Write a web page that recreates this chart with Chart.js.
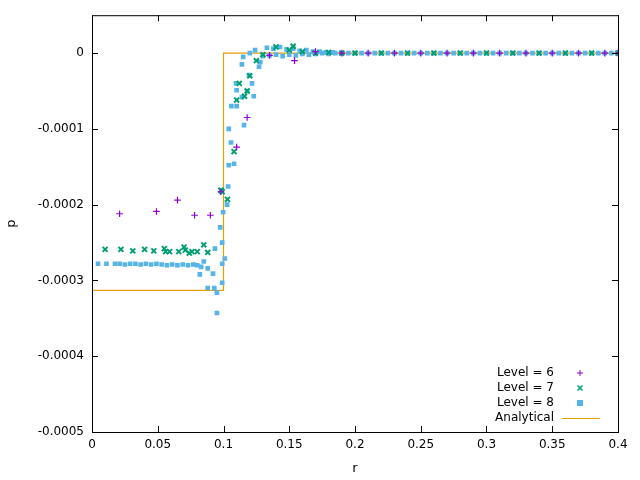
<!DOCTYPE html>
<html><head><meta charset="utf-8">
<script src="https://cdn.jsdelivr.net/npm/chart.js@4"></script>
<style>body{margin:0;background:#fff}#w{width:640px;height:480px}</style>
</head><body><div id="w"><canvas id="c"></canvas></div>
<script>
const xTicks=[0,0.05,0.1,0.15,0.2,0.25,0.3,0.35,0.4];
const yTicks=[0,-0.0001,-0.0002,-0.0003,-0.0004,-0.0005];
const l6r=[0.021,0.049,0.065,0.078,0.090,0.098,0.110,0.118,0.135,0.154,0.17,0.19,0.21,0.23,0.25,0.27,0.29,0.31,0.33,0.35,0.37,0.39,0.4];
const l6p=[-0.000212,-0.000209,-0.000194,-0.000214,-0.000214,-0.000183,-0.000124,-0.000085,-0.000003,-0.00001,0.000002,0,0,0,0,0,0,0,0,0,0,0,0];
const l7r=[0.010,0.022,0.031,0.040,0.047,0.055,0.056,0.059,0.066,0.070,0.071,0.074,0.076,0.080,0.085,0.088,0.098,0.099,0.103,0.108,0.110,0.112,0.116,0.118,0.120,0.125,0.13,0.14,0.15,0.153,0.16,0.17,0.18,0.19,0.2,0.22,0.24,0.26,0.28,0.3,0.32,0.34,0.36,0.38,0.4];
const l7p=[-0.000259,-0.000259,-0.000261,-0.000259,-0.000261,-0.000258,-0.000262,-0.000262,-0.000262,-0.000256,-0.00026,-0.000264,-0.000262,-0.000262,-0.000253,-0.000263,-0.000181,-0.000183,-0.000193,-0.00013,-0.000062,-0.00004,-0.000057,-0.00005,-0.00003,-0.00001,-0.000002,0.000008,0.000004,0.000009,0.000002,0,0.000001,0,0,0,0,0,0,0,0,0,0,0,0];
const l8r=[0.0046,0.011,0.0175,0.021,0.025,0.029,0.033,0.037,0.041,0.045,0.049,0.053,0.057,0.061,0.065,0.069,0.073,0.077,0.080,0.083,0.082,0.085,0.088,0.088,0.093,0.092,0.095,0.095,0.099,0.099,0.101,0.0935,0.099,0.0975,0.0997,0.1027,0.1035,0.104,0.108,0.1057,0.104,0.1156,0.106,0.110,0.114,0.123,0.110,0.1095,0.1217,0.118,0.1194,0.114,0.115,0.120,0.124,0.128,0.127,0.133,0.138,0.143,0.148,0.153,0.158,0.163,0.168,0.173,0.178,0.183,
0.13,0.135,0.14,0.145,0.15,0.155,0.16,0.165,0.17,0.175,0.18,0.185,0.19,0.195,0.2,0.205,0.21,0.215,0.22,0.225,0.23,0.235,0.24,0.245,0.25,0.255,0.26,0.265,0.27,0.275,0.28,0.285,0.29,0.295,0.3,0.305,0.31,0.315,0.32,0.325,0.33,0.335,0.34,0.345,0.35,0.355,0.36,0.365,0.37,0.375,0.38,0.385,0.39,0.395,0.4];
const l8p=[-0.000278,-0.000278,-0.000278,-0.000278,-0.000279,-0.000278,-0.000278,-0.000279,-0.000278,-0.000279,-0.000278,-0.000279,-0.00028,-0.000279,-0.00028,-0.000279,-0.00028,-0.000279,-0.00028,-0.000282,-0.000292,-0.000275,-0.000284,-0.00031,-0.00031,-0.000291,-0.000316,-0.000343,-0.000303,-0.000278,-0.000271,-0.000258,-0.00025,-0.00023,-0.00021,-0.0002,-0.000176,-0.000148,-0.000146,-0.000118,-0.0001,-0.000095,-0.00007,-0.00007,-0.000058,-0.000057,-0.000049,-0.00004,-0.00004,-0.00005,-0.000029,-0.000015,-0.000005,0,0.000004,-0.000012,-0.000018,0.000007,0.000006,0.000008,0.000005,0.000006,0.000003,0.000004,0.000002,0.000002,0.000001,0.000001,
-0.000004,-0.000003,-0.000002,-0.000004,-0.000002,-0.000003,-0.000001,-0.000002,-0.000001,0,-0.000001,0,0,0,0,0,0,0,0,0,0,0,0,0,0,0,0,0,0,0,0,0,0,0,0,0,0,0,0,0,0,0,0,0,0,0,0,0,0,0,0,0,0,0,0];
const anR=[0,0.1,0.1,0.4];
const anP=[-0.000313,-0.000313,0,0];
const pts=(a,b)=>a.map((x,i)=>({x:x,y:b[i]}));
const frame={id:'frame',afterDraw(ch){const c=ch.ctx,a=ch.chartArea,xs=ch.scales.x,ys=ch.scales.y;c.save();c.strokeStyle='#000';c.lineWidth=1;
c.strokeRect(a.left+0.5,a.top+0.5,a.right-a.left,a.bottom-a.top);c.beginPath();
xTicks.forEach(v=>{const p=Math.round(xs.getPixelForValue(v))+0.5;c.moveTo(p,a.bottom);c.lineTo(p,a.bottom-6);c.moveTo(p,a.top);c.lineTo(p,a.top+6);});
yTicks.forEach(v=>{const p=Math.round(ys.getPixelForValue(v))+0.5;c.moveTo(a.left,p);c.lineTo(a.left+6,p);c.moveTo(a.right,p);c.lineTo(a.right-6,p);});
c.stroke();
const items=[['Level = 6','#9400d3','cross'],['Level = 7','#009e73','crossRot'],['Level = 8','#56b4e9','rect'],['Analytical','#e69f00','line']];
c.font='12px "DejaVu Sans", sans-serif';c.textAlign='right';c.textBaseline='middle';
items.forEach((it,i)=>{const y=373+i*15;c.fillStyle='#000';c.fillText(it[0],554,y);const sx=580;c.strokeStyle=it[1];c.fillStyle=it[1];c.lineWidth=1;
if(it[2]==='line'){c.beginPath();c.moveTo(562,y+0.5);c.lineTo(600,y+0.5);c.stroke();}
else if(it[2]==='cross'){c.beginPath();c.moveTo(sx-3,y);c.lineTo(sx+3,y);c.moveTo(sx,y-3);c.lineTo(sx,y+3);c.stroke();}
else if(it[2]==='crossRot'){c.lineWidth=1.5;c.beginPath();c.moveTo(sx-2.5,y-2.5);c.lineTo(sx+2.5,y+2.5);c.moveTo(sx+2.5,y-2.5);c.lineTo(sx-2.5,y+2.5);c.stroke();}
else{c.fillRect(sx-3,y-3,6,6);}});
c.restore();}};
new Chart(document.getElementById('c'),{type:'scatter',
data:{datasets:[
{label:'Level = 6',data:pts(l6r,l6p),pointStyle:'cross',borderColor:'#9400d3',borderWidth:1.2,pointRadius:3.3},
{label:'Level = 7',data:pts(l7r,l7p),pointStyle:'crossRot',borderColor:'#009e73',borderWidth:2,pointRadius:3.5},
{label:'Level = 8',data:pts(l8r,l8p),pointStyle:'rect',backgroundColor:'#56b4e9',borderColor:'#56b4e9',borderWidth:0,pointRadius:3.3},
{label:'Analytical',data:pts(anR,anP),showLine:true,borderColor:'#e69f00',borderWidth:1.2,pointRadius:0,fill:false}]},
options:{responsive:true,maintainAspectRatio:false,animation:false,
layout:{padding:{top:15,right:22,left:0,bottom:0}},
plugins:{legend:{display:false},tooltip:{enabled:false}},
scales:{
x:{type:'linear',min:0,max:0.4,afterFit(s){s.height=48;},afterBuildTicks(s){s.ticks=xTicks.map(v=>({value:v}));},
grid:{display:false,drawTicks:false},border:{display:false},
ticks:{color:'#000',padding:6,font:{family:'DejaVu Sans',size:12},maxRotation:0,callback:v=>String(+v.toFixed(2))},
title:{display:true,text:'r',color:'#000',font:{family:'DejaVu Sans',size:13},padding:{top:4}}},
y:{type:'linear',min:-0.0005,max:0.00005,afterFit(s){s.width=92;},afterBuildTicks(s){s.ticks=yTicks.map(v=>({value:v}));},
grid:{display:false,drawTicks:false},border:{display:false},
ticks:{color:'#000',padding:8,font:{family:'DejaVu Sans',size:12},callback:v=>v===0?'0':v.toFixed(4)},
title:{display:true,text:'p',color:'#000',font:{family:'DejaVu Sans',size:13},padding:{bottom:4}}}}},
plugins:[frame]});
</script></body></html>
